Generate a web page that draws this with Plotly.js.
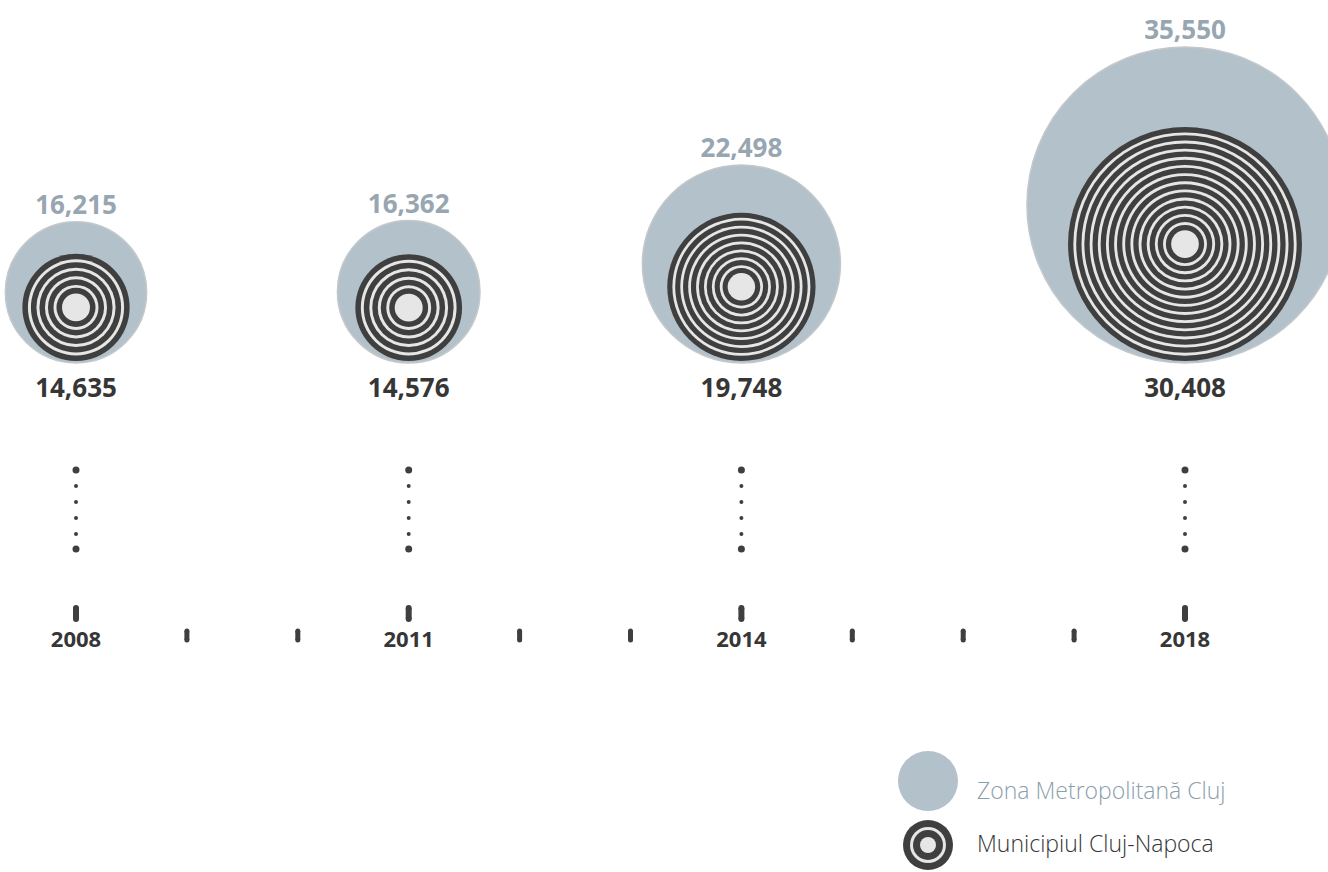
<!DOCTYPE html>
<html>
<head>
<meta charset="utf-8">
<script src="https://cdn.plot.ly/plotly-3.0.1.min.js"></script>
<style>
html,body{margin:0;padding:0;background:#fff;}
#chart{width:1328px;height:872px;}
</style>
</head>
<body>
<div id="chart"></div>
<script>
// ---- data ----
const years = [2008, 2011, 2014, 2018];
const metroValues = [16215, 16362, 22498, 35550];   // Zona Metropolitană Cluj
const cityValues = [14635, 14576, 19748, 30408];    // Municipiul Cluj-Napoca
const allYears = [2008, 2009, 2010, 2011, 2012, 2013, 2014, 2015, 2016, 2017, 2018];
const yearLabels = ['2008', '2011', '2014', '2018'];
const seriesNames = ['Zona Metropolitană Cluj', 'Municipiul Cluj-Napoca'];

// ---- styles / scales ----
const W = 1328, H = 872;
const C_METRO = '#b3c1ca', C_METRO_LINE = '#c4c8cb', C_METRO_TXT = '#97a6b0';
const C_DARK = '#3f3f3f', C_LIGHT = '#e6e6e6', C_TXT = '#363636';
const FONT = 'Open Sans, Noto Sans, sans-serif';
const outerD = v => 0.009041 * v - 5.3;   // size scale (px diameter)
const innerD = v => 0.00803 * v - 10.3;
const OUTER_BASE = 363, INNER_BASE = 361;
const fmt = v => v.toLocaleString('en-US');

const xPx0 = 76, xPx1 = 1185;
const pxPerYear = (xPx1 - xPx0) / (2018 - 2008);
const xMin = 2008 - xPx0 / pxPerYear, xMax = xMin + W / pxPerYear;

const traces = [];
const base = {type: 'scatter', hoverinfo: 'skip', showlegend: false};

// metro circles
const oD = metroValues.map(outerD);
traces.push(Object.assign({}, base, {
  mode: 'markers', x: years, y: oD.map(d => OUTER_BASE - d / 2),
  marker: {size: oD, color: C_METRO, line: {color: C_METRO_LINE, width: 1.5}, opacity: 1}
}));

// ring builder
function rings(cx, cy, R) {
  const n = Math.max(1, Math.round((R - 11) / 8));
  const p = (R - 11) / n, dark = p * 0.65;
  const sizes = [], colors = [];
  let r = R;
  for (let i = 0; i < n; i++) {
    sizes.push(2 * r); colors.push(C_DARK);
    sizes.push(2 * (r - dark)); colors.push(C_LIGHT);
    r -= p;
  }
  return Object.assign({}, base, {
    mode: 'markers',
    x: sizes.map(() => cx), y: sizes.map(() => cy),
    marker: {size: sizes, color: colors, line: {width: 0}, opacity: 1}
  });
}
cityValues.forEach((v, i) => {
  const d = innerD(v);
  traces.push(rings(years[i], INNER_BASE - d / 2, d / 2));
});

// value labels
traces.push(Object.assign({}, base, {
  mode: 'text', x: years, y: oD.map(d => OUTER_BASE - d - 14),
  text: metroValues.map(fmt), textposition: 'middle center',
  textfont: {family: FONT, size: 26, color: C_METRO_TXT, weight: 700}
}));
traces.push(Object.assign({}, base, {
  mode: 'text', x: years, y: years.map(() => 390),
  text: cityValues.map(fmt), textposition: 'middle center',
  textfont: {family: FONT, size: 26, color: C_TXT, weight: 700}
}));

// dotted connectors
const dotY = [470, 486, 502, 518, 534, 549];
const dotS = [7, 4, 4, 4, 4, 7];
years.forEach(yr => {
  traces.push(Object.assign({}, base, {
    mode: 'markers', x: dotY.map(() => yr), y: dotY,
    marker: {size: dotS, color: C_DARK, line: {width: 0}, opacity: 1}
  }));
});

// timeline ticks with rounded ends
function tickTrace(xs, y0, y1, w) {
  const x = [], y = [];
  xs.forEach(v => { x.push(v, v, null); y.push(y0, y1, null); });
  return Object.assign({}, base, {
    mode: 'lines+markers', x: x, y: y,
    line: {color: C_DARK, width: w},
    marker: {size: w, color: C_DARK, line: {width: 0}, opacity: 1}
  });
}
const minorYears = allYears.filter(y => years.indexOf(y) < 0);
traces.push(tickTrace(years, 608, 619, 6));
traces.push(tickTrace(minorYears, 631, 640, 5));
traces.push(Object.assign({}, base, {
  mode: 'text', x: years, y: years.map(() => 641),
  text: yearLabels, textposition: 'middle center',
  textfont: {family: FONT, size: 22, color: C_TXT, weight: 700}
}));

// custom legend (pixel axis x2)
traces.push(Object.assign({}, base, {
  mode: 'markers', xaxis: 'x2', x: [928], y: [781],
  marker: {size: 60, color: C_METRO, line: {width: 0}, opacity: 1}
}));
(function () {
  const sizes = [50, 36, 30, 16], colors = [C_DARK, C_LIGHT, C_DARK, C_LIGHT];
  traces.push(Object.assign({}, base, {
    mode: 'markers', xaxis: 'x2',
    x: sizes.map(() => 928), y: sizes.map(() => 845),
    marker: {size: sizes, color: colors, line: {width: 0}, opacity: 1}
  }));
})();
traces.push(Object.assign({}, base, {
  mode: 'text', xaxis: 'x2', x: [977, 977], y: [793, 846],
  text: seriesNames, textposition: 'middle right',
  textfont: {family: FONT, size: 23, color: ['#8aa0ad', C_TXT], weight: 300}
}));

const layout = {
  width: W, height: H,
  margin: {l: 0, r: 0, t: 0, b: 0, pad: 0},
  paper_bgcolor: '#ffffff', plot_bgcolor: '#ffffff',
  showlegend: false,
  xaxis: {range: [xMin, xMax], visible: false, fixedrange: true},
  xaxis2: {range: [0, W], visible: false, overlaying: 'x', fixedrange: true},
  yaxis: {range: [H, 0], visible: false, fixedrange: true},
  hovermode: false
};

Plotly.newPlot('chart', traces, layout, {displayModeBar: false, staticPlot: true});
</script>
</body>
</html>
